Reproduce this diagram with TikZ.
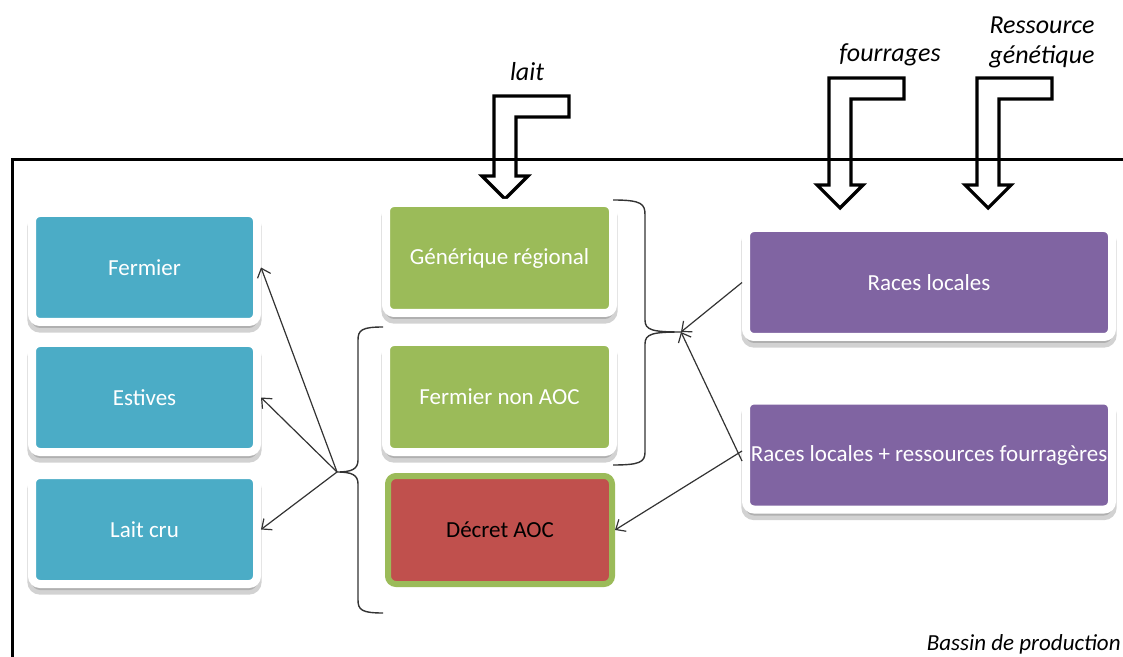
\documentclass[tikz,border=0pt]{standalone}
\usepackage{fontspec}
\setmainfont{Carlito}
\usetikzlibrary{arrows.meta,shadows}
\definecolor{bassinblue}{HTML}{4BACC6}
\definecolor{bassingreen}{HTML}{9BBB59}
\definecolor{bassinred}{HTML}{C0504D}
\definecolor{bassinpurple}{HTML}{8064A2}
\tikzset{
  card/.style={draw=white,line width=4pt,rounded corners=4pt,inner sep=0pt,
    text=white,font=\fontsize{11.5}{14}\selectfont,
    drop shadow={opacity=.25,fill=black!70,shadow xshift=0pt,shadow yshift=-3pt,
      draw=black!70,line width=4.6pt,rounded corners=4pt}},
  bluecard/.style={card,fill=bassinblue,minimum width=112.5pt,minimum height=54.5pt},
  greencard/.style={card,fill=bassingreen,minimum width=113.5pt,minimum height=55pt},
  purplecard/.style={card,fill=bassinpurple,minimum width=183pt,minimum height=54.5pt},
  aoccard/.style={draw=bassingreen,line width=3pt,rounded corners=4pt,fill=bassinred,
    inner sep=0pt,minimum width=112pt,minimum height=54pt,
    font=\fontsize{11.5}{14}\selectfont},
  link/.style={line width=.6pt,black!80,-{Straight Barb[length=4pt,width=7pt]}},
  brace/.style={line width=.7pt,black!80},
  bigarrow/.style={line width=1.6pt,line join=miter},
  flowlabel/.style={font=\itshape\fontsize{13}{16}\selectfont}
}
\begin{document}
\begin{tikzpicture}[x=.5pt,y=-.5pt]
\useasboundingbox (0,0) rectangle (1123,657);
% bassin de production
\draw[line width=1.5pt] (12,657) -- (12,160) -- (1123,160);
\node[anchor=east,inner sep=0pt,font=\itshape\fontsize{11.5}{14}\selectfont] (bassin) at (1121,644) {Bassin de production};
% inputs entering from outside
\foreach \x/\t/\h in {494/96/176,829/78/185,977/78/185}{
  \draw[bigarrow] (\x,\t) -- ++(75,0) -- ++(0,21) -- (\x+22,\t+21) -- (\x+22,\h)
    -- ++(12,0) -- (\x+11,\h+23) -- (\x-12,\h) -- (\x,\h) -- cycle;
}
\node[flowlabel] (lait) at (527,72) {lait};
\node[flowlabel] (fourrages) at (890,55) {fourrages};
\node[flowlabel,align=center] (genet) at (1042,42) {Ressource\\[-1pt]génétique};
% left column
\node[bluecard] (fermier) at (144.5,267.5) {Fermier};
\node[bluecard] (estives) at (144.5,397.5) {Estives};
\node[bluecard] (laitcru) at (144.5,529.5) {Lait cru};
% middle column
\node[greencard] (generique) at (499.5,258) {Générique régional};
\node[greencard] (fermiernon) at (499.5,397) {Fermier non AOC};
\node[aoccard] (aoc) at (500,530) {Décret AOC};
% right column
\node[purplecard] (races) at (929,282.5) {Races locales};
\node[purplecard] (racesplus) at (929,455) {Races locales + ressources fourragères};
% braces
\coordinate (rtip) at (681,332);
\coordinate (ltip) at (337,472);
\draw[brace] (613,200) .. controls (642,200) and (645,204) .. (645,215) -- (645,320)
  .. controls (645,330) and (652,332) .. (rtip)
  .. controls (652,332) and (645,334) .. (645,344) -- (645,452)
  .. controls (645,462) and (640,465) .. (613,465);
\draw[brace] (383,327) .. controls (362,327) and (358,330) .. (358,340) -- (358,460)
  .. controls (358,469) and (352,472) .. (ltip)
  .. controls (352,472) and (358,475) .. (358,484) -- (358,600)
  .. controls (358,610) and (362,613) .. (383,613);
% links
\draw[link] (ltip) -- (fermier.east);
\draw[link] (ltip) -- (estives.east);
\draw[link] (ltip) -- (laitcru.east);
\draw[link] (races.west) -- (rtip);
\draw[link] ([yshift=-3pt]racesplus.west) -- (rtip);
\draw[link] ([yshift=2pt]racesplus.west) -- (aoc.east);
\end{tikzpicture}
\end{document}
